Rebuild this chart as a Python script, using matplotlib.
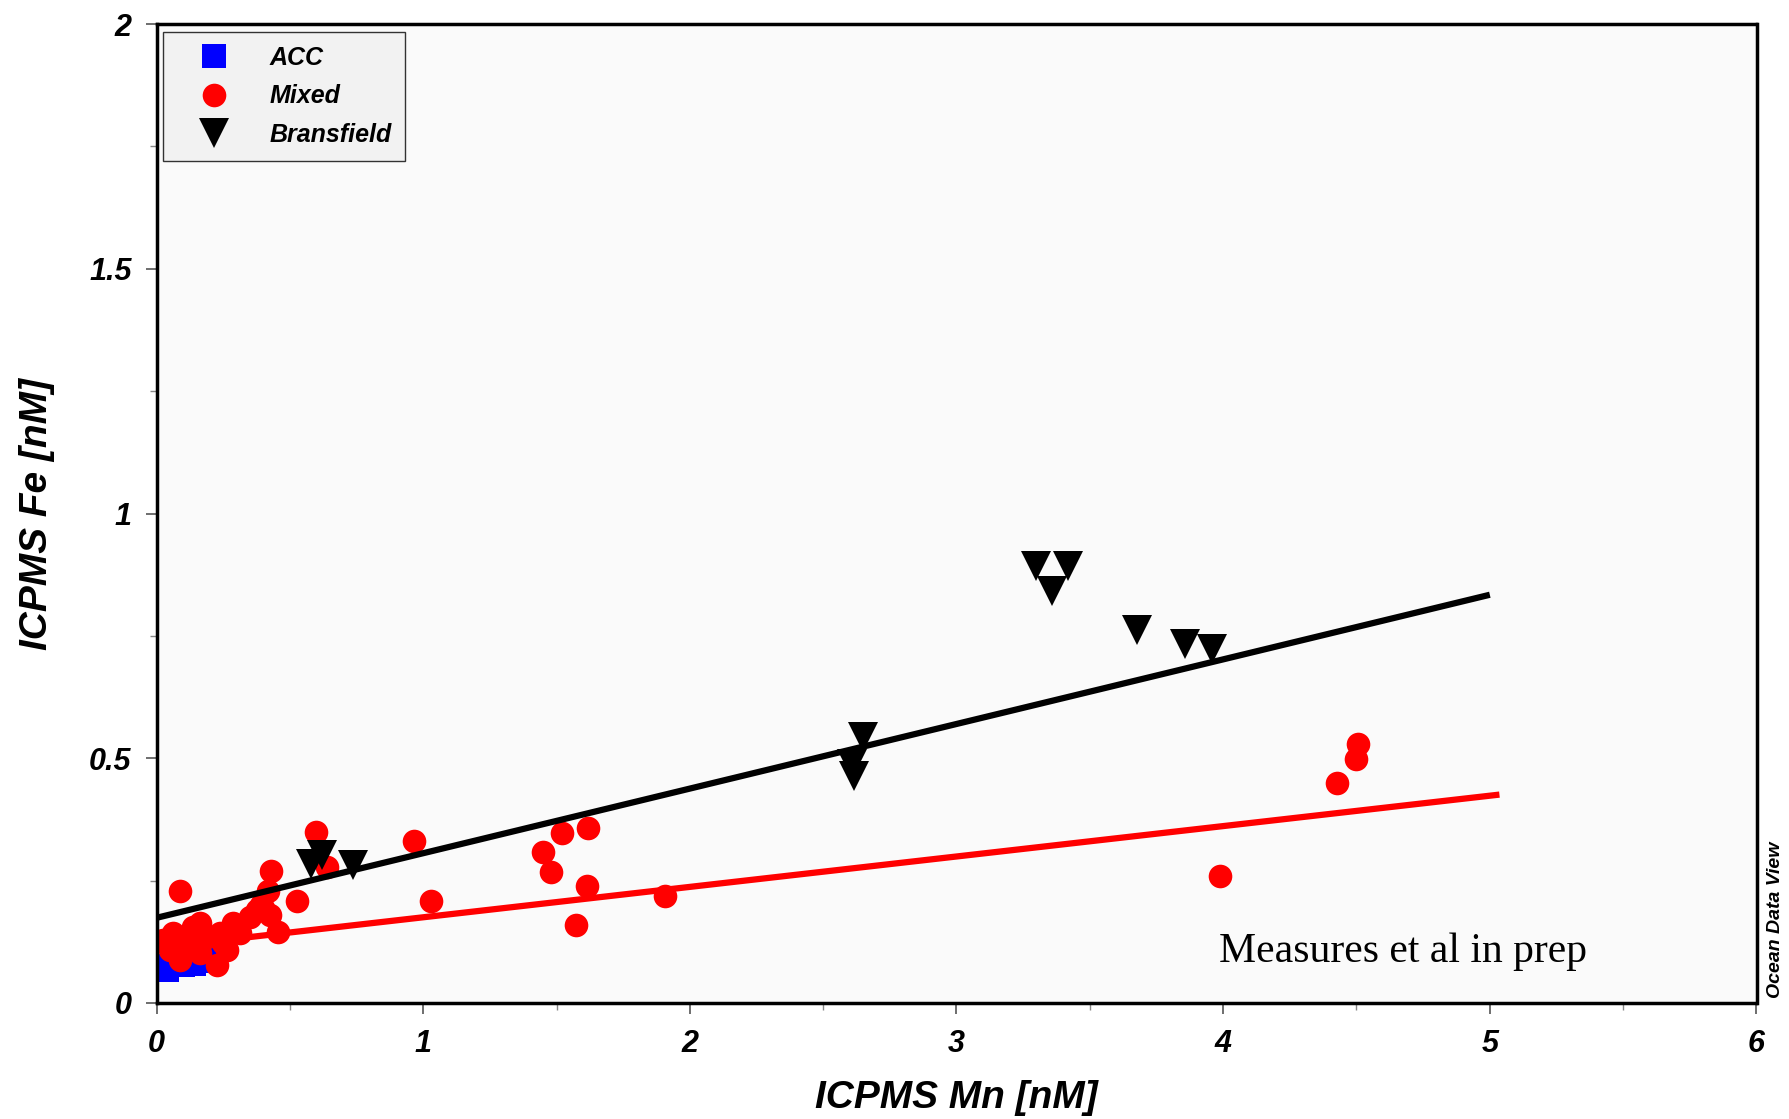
import numpy as np
import matplotlib
matplotlib.use("Agg")
import matplotlib.pyplot as plt
from matplotlib.ticker import MultipleLocator, FuncFormatter

plt.rcParams['font.family'] = ['Liberation Sans', 'DejaVu Sans']

# ACC samples (mostly hidden under the red cluster)
acc_mn = [0.02, 0.04, 0.06, 0.10, 0.14, 0.18, 0.21]
acc_fe = [0.075, 0.068, 0.080, 0.078, 0.080, 0.085, 0.090]

# Mixed samples
mixed_mn = [0.088, 0.597, 0.638, 0.966, 1.028, 0.428, 0.419, 0.526, 0.426, 0.457,
            0.376, 0.351, 0.288, 0.163, 0.138, 0.063, 0.026, 0.100, 0.188, 0.238,
            0.263, 0.226, 0.088, 0.163, 0.313, 0.250, 0.050, 0.125, 0.400, 0.390,
            1.519, 1.619, 1.451, 1.478, 1.613, 1.907, 1.574,
            3.987, 4.507, 4.498, 4.428]
mixed_fe = [0.229, 0.349, 0.277, 0.330, 0.209, 0.270, 0.229, 0.209, 0.180, 0.146,
            0.190, 0.176, 0.163, 0.163, 0.156, 0.142, 0.129, 0.129, 0.135, 0.142,
            0.108, 0.078, 0.088, 0.102, 0.142, 0.122, 0.108, 0.115, 0.195, 0.200,
            0.348, 0.358, 0.309, 0.268, 0.239, 0.219, 0.159,
            0.259, 0.529, 0.498, 0.449]

# Bransfield samples
bransfield_mn = [0.578, 0.619, 0.738, 2.610, 2.616, 2.648, 3.297, 3.417, 3.357,
                 3.678, 3.857, 3.959]
bransfield_fe = [0.284, 0.302, 0.282, 0.488, 0.464, 0.543, 0.893, 0.893, 0.842,
                 0.763, 0.734, 0.724]

# linear fits: (slope, intercept, x max)
bransfield_fit = (0.132, 0.174, 5.0)
mixed_fit = (0.0621, 0.113, 5.036)

W, H = 1789, 1119
fig = plt.figure(figsize=(W / 100, H / 100), dpi=100)
left, right, bottom, top = 156.5, 1756.5, 1003, 24
ax = fig.add_axes([left / W, 1 - bottom / H, (right - left) / W, (bottom - top) / H])
ax.set_facecolor('#fafafa')

ax.plot(acc_mn, acc_fe, 's', color='#0000ff', ms=17, mew=0, label='ACC', zorder=3)
ax.plot(mixed_mn, mixed_fe, 'o', color='#ff0000', ms=17, mew=0, label='Mixed', zorder=4)
ax.plot(bransfield_mn, bransfield_fe, 'v', color='black', ms=21, mew=0,
        label='Bransfield', zorder=5)

for (slope, icpt, xmax), col in [(bransfield_fit, 'black'), (mixed_fit, '#ff0000')]:
    xs = np.array([0.0, xmax])
    ax.plot(xs, np.polyval([slope, icpt], xs), color=col, lw=4.5,
            solid_capstyle='butt', zorder=6)

ax.set_xlim(0, 6)
ax.set_ylim(0, 2)
ax.xaxis.set_major_locator(MultipleLocator(1))
ax.xaxis.set_minor_locator(MultipleLocator(0.5))
ax.yaxis.set_major_locator(MultipleLocator(0.5))
ax.yaxis.set_minor_locator(MultipleLocator(0.25))
fmt = FuncFormatter(lambda v, p: f"{v:g}")
ax.xaxis.set_major_formatter(fmt)
ax.yaxis.set_major_formatter(fmt)

ax.tick_params(which='major', direction='out', length=8, width=1.2, color='#555555',
               labelsize=22)
ax.tick_params(axis='x', which='major', pad=11)
ax.tick_params(axis='y', which='major', pad=10)
ax.tick_params(which='minor', direction='out', length=5, width=1.0, color='#888888')
for lab in ax.get_xticklabels() + ax.get_yticklabels():
    lab.set_fontweight('bold')
    lab.set_fontstyle('italic')

for sp in ax.spines.values():
    sp.set_linewidth(2.5)
    sp.set_zorder(10)

ax.set_xlabel('ICPMS Mn [nM]', fontsize=28, fontweight='bold', fontstyle='italic')
ax.xaxis.label.set_va('baseline')
ax.xaxis.set_label_coords(0.5, (bottom - 1108) / (bottom - top))
ax.set_ylabel('ICPMS Fe [nM]', fontsize=28, fontweight='bold', fontstyle='italic')
ax.yaxis.label.set_va('baseline')
ax.yaxis.set_label_coords((47 - left) / (right - left), 0.5)

ax.text(3.984, 0.084, 'Measures et al in prep', family='Liberation Serif',
        fontsize=30, ha='left', va='baseline', zorder=7)

leg = ax.legend(loc='upper left', bbox_to_anchor=(163 / W, 1 - 32 / H),
                bbox_transform=fig.transFigure, numpoints=1, fancybox=False,
                framealpha=1, facecolor='#f2f2f2', edgecolor='#333333',
                prop={'weight': 'bold', 'style': 'italic', 'size': 18},
                borderpad=0.55, labelspacing=0.58, handlelength=3.0,
                handletextpad=0.7, borderaxespad=0)
leg.get_frame().set_linewidth(1.0)
leg.set_zorder(12)

fig.text(1776 / W, 1 - 998 / H, 'Ocean Data View', rotation=90, ha='center',
         va='bottom', fontsize=14, fontweight='bold', fontstyle='italic')

fig.savefig('out.png', dpi=100, facecolor='white')
